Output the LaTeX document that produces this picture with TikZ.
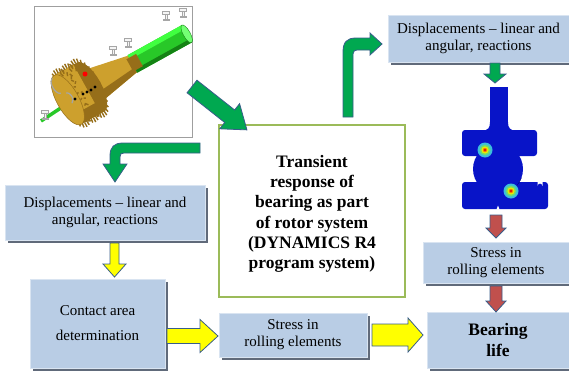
\documentclass[tikz,border=0pt]{standalone}
\usepackage{fontspec}
\setmainfont{Liberation Serif}
\usetikzlibrary{shadows}
\definecolor{boxfill}{RGB}{185,205,229}
\definecolor{boxshadow}{RGB}{96,106,122}
\definecolor{transborder}{RGB}{155,187,89}
\definecolor{agreen}{RGB}{0,168,80}
\definecolor{aborder}{RGB}{56,93,138}
\definecolor{ayellow}{RGB}{255,255,0}
\definecolor{ared}{RGB}{192,80,77}
\definecolor{feblue}{RGB}{8,20,200}
\definecolor{gold}{RGB}{205,160,45}
\definecolor{golddark}{RGB}{150,110,25}
\definecolor{tubegreen}{RGB}{40,200,40}
\definecolor{tubedark}{RGB}{20,130,20}
\definecolor{hsA}{RGB}{60,190,220}
\definecolor{hsB}{RGB}{110,220,110}
\definecolor{hsC}{RGB}{235,235,0}
\definecolor{hsD}{RGB}{245,130,0}
\definecolor{hsE}{RGB}{220,0,0}
\tikzset{
 infobox/.style={fill=boxfill, draw=boxfill!55!white, line width=0.6pt, inner sep=0pt,
   align=center, font=\fontsize{15}{17}\selectfont,
   drop shadow={shadow xshift=3pt, shadow yshift=-3pt, fill=boxshadow, opacity=1}},
 blockarrow/.style={draw=aborder, line width=0.8pt, line join=miter},
 fixture/.style={draw=gray!70, fill=gray!8, line width=0.5pt},
}
\newcommand{\blockarr}[8]{%
 \draw[#1, shift={(#2,#3)}, rotate=#4] (0,-#6) -- ({#5-#8},-#6) -- ({#5-#8},-#7) -- (#5,0)
   -- ({#5-#8},#7) -- ({#5-#8},#6) -- (0,#6) -- cycle;}
\newcommand{\hotspot}[2]{%
 \fill[hsA] (#1,#2) circle (7.5); \fill[hsB] (#1,#2) circle (5.5);
 \fill[hsC] (#1,#2) circle (3.6); \fill[hsD] (#1,#2) circle (2.2); \fill[hsE] (#1,#2) circle (1.1);}
\newcommand{\fixt}[2]{%
 \draw[fixture] (#1-3.5,#2-6) rectangle (#1+3.5,#2-3);
 \draw[fixture] (#1-1,#2-3) rectangle (#1+1,#2+2);
 \draw[fixture] (#1-3,#2+2) rectangle (#1+3,#2+3.5);}
\begin{document}
\begin{tikzpicture}[x=1pt,y=-1pt]
\useasboundingbox (0,0) rectangle (569,372);
% photo frame
\node[draw=gray!75, line width=0.9pt, fill=white, minimum width=158, minimum height=131, inner sep=0pt] (photo) at (113,71.5) {};
% rotor drawing
\draw[tubegreen, line width=3.5pt] (41,121) -- (76,98);
\begin{scope}[shift={(80,93)}, rotate=29]
 % cone shaft
 \fill[gold] (10,-19) -- (62,-9) -- (62,9) -- (10,19) -- cycle;
 \fill[golddark] (10,9) -- (62,4) -- (62,9) -- (10,19) -- cycle;
 % tube
 \fill[tubegreen] (60,-10) rectangle (122,10);
 \fill[green!75!white] (60,-10) rectangle (122,-5);
 \fill[tubedark] (60,6) rectangle (122,10);
 \fill[green!55!white] (122,0) ellipse (3.5 and 10);
 \draw[tubedark, line width=0.4pt] (122,0) ellipse (3.5 and 10);
 \fill[golddark] (57,-7) rectangle (68,7);
 % gear body
 \fill[golddark] (-14,-28) rectangle (12,28);
 \fill[golddark] (12,0) ellipse (11 and 28);
 \fill[gold] (-14,-28) rectangle (8,16);
 \foreach \c in {-10,0,10}{
   \foreach \t in {0,13,...,350}{
     \draw[golddark, line width=1.4pt] ({\c+11*cos(\t)},{28*sin(\t)}) -- ({\c+13*cos(\t)},{33*sin(\t)});
   }
 }
 \fill[gold] (-14,0) ellipse (11 and 28);
 \draw[golddark, line width=0.5pt] (-14,0) ellipse (11 and 28);
 \draw[gray!70, line width=1.2pt] (-17,-9) arc[start angle=100, end angle=260, x radius=5, y radius=9];
 \draw[gray!70, line width=1.2pt] (-12,5) arc[start angle=-80, end angle=80, x radius=4, y radius=-6];
\end{scope}
\fill[red] (85,74) circle (2.5);
\foreach \px/\py in {75/99, 83/94, 87/92, 91/90, 95/87}{\fill[black] (\px,\py) circle (1.6);}
\fixt{45}{116}
\fixt{113}{52}
\fixt{128}{44}
\fixt{166}{17}
\fixt{183}{14}
% FE bearing picture
\fill[feblue] (490,87) rectangle (508,132);
\fill[feblue] (482,130.5) .. controls (488,130.5) and (490,128) .. (490,122) -- (490,131) -- cycle;
\fill[feblue] (516,130.5) .. controls (510,130.5) and (508,128) .. (508,122) -- (508,131) -- cycle;
\fill[feblue, rounded corners=3pt] (462,130) rectangle (537,156);
\fill[feblue] (498,169) circle (25);
\fill[feblue, rounded corners=3pt] (462,182) rectangle (548,209);
\fill[white] (537.5,181) -- (537.5,186) arc[start angle=180, end angle=360, radius=2.5] -- (542.5,181) -- cycle;
\fill[white] (496.5,209.5) -- (498,205.5) -- (499.5,209.5) -- cycle;
\draw[blue!50!black, line width=0.4pt] (498,169) ++(75:25) arc[start angle=75, end angle=20, radius=25];
\hotspot{485}{150}
\hotspot{511}{191}
% boxes
\node[infobox, minimum width=181, minimum height=47] (disptop) at (478.5,38.5) {Displacements \textendash{} linear and\\angular, reactions};
\node[infobox, minimum width=200, minimum height=55] (displeft) at (105,212.5) {Displacements \textendash{} linear and\\angular, reactions};
\node[infobox, minimum width=135, minimum height=89, font=\fontsize{15}{25}\selectfont] (contact) at (97.5,323.5) {Contact area\\determination};
\node[infobox, minimum width=148, minimum height=44] (stressmid) at (293,335) {Stress in\\rolling elements};
\node[infobox, minimum width=146, minimum height=41] (stressright) at (496,262.5) {Stress in\\rolling elements};
\node[infobox, minimum width=142, minimum height=56, font=\fontsize{17.5}{21}\selectfont\bfseries] (life) at (498,340) {Bearing\\life};
\node[draw=transborder, line width=1.5pt, fill=white, minimum width=186, minimum height=172, inner sep=0pt] (transient) at (312,211) {};
\node[align=center, inner sep=0pt, font=\fontsize{17.5}{20.3}\selectfont\bfseries] (transienttext) at (312,214) {Transient\\response of\\bearing as part\\of rotor system\\(DYNAMICS R4\\program system)};
% block arrows
\blockarr{blockarrow, fill=agreen}{192}{86.5}{-38.3}{70}{8}{16}{22}
\blockarr{blockarrow, fill=agreen}{495}{63}{-90}{20}{5}{11}{9}
\blockarr{blockarrow, fill=ayellow}{114.5}{243}{-90}{34}{4.5}{11.5}{13}
\blockarr{blockarrow, fill=ayellow}{167}{336}{0}{51}{7.5}{16.5}{18}
\blockarr{blockarrow, fill=ayellow}{372}{335}{0}{51}{11}{17}{15}
\blockarr{blockarrow, fill=ared}{496}{215}{-90}{23}{6}{10}{10}
\blockarr{blockarrow, fill=ared}{496}{286}{-90}{26}{6}{10}{11}
% bent arrows
\draw[blockarrow, fill=agreen] (343,117) -- (343,52) .. controls (343,42) and (347,38) .. (356,38)
  -- (370,38) -- (370,33) -- (382,44) -- (370,55) -- (370,50) -- (357,50)
  .. controls (355,50) and (353,51) .. (353,54) -- (353,117) -- cycle;
\draw[blockarrow, fill=agreen] (200,143) -- (123,143) .. controls (114,143) and (110,147) .. (110,156)
  -- (110,164) -- (103,164) -- (115,182) -- (127,164) -- (120,164) -- (120,157)
  .. controls (120,154) and (121,153) .. (124,153) -- (200,153) -- cycle;
\end{tikzpicture}
\end{document}
